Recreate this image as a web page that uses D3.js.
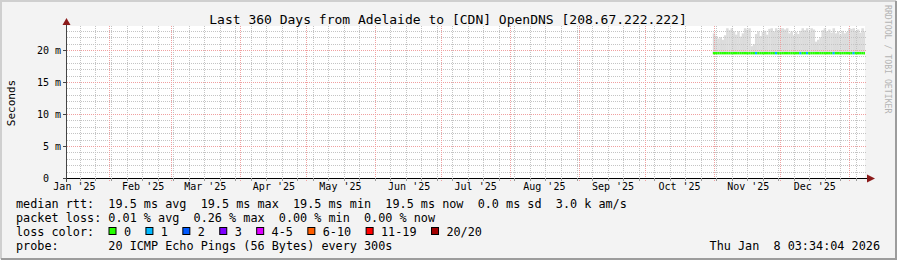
<!DOCTYPE html>
<meta charset="utf-8">
<style>
    body { margin: 0; background: #f3f3f3; }
    svg { display: block; }
    text { font-family: "DejaVu Sans Mono", monospace; fill: #000; white-space: pre; }
</style>
<svg width="897" height="260"></svg>
<script src="https://d3js.org/d3.v7.min.js"></script>
<script>
    // ---- data ----
    var graphEnd = new Date(Date.UTC(2026, 0, 8, 3, 34, 4));
    var graphStart = new Date(graphEnd.getTime() - 360 * 864e5);
    var dataStart = new Date(Date.UTC(2025, 9, 31, 12, 0, 0));

    // daily top of the smoke (ms)
    var smokeTop = [22.6, 22.2, 21.8, 22.0, 21.6, 22.3,
        23.4, 23.1, 23.4, 22.9,
        22.4, 22.9, 22.1, 22.6,
        23.4, 23.2, 23.4,
        20.6, 20.9,
        22.5, 22.9, 22.2, 22.8, 23.0, 22.4,
        23.3, 23.4, 22.9, 23.4, 23.1, 23.4,
        23.4, 23.2, 23.4,
        22.6, 22.9, 22.3, 22.8, 22.5, 23.0,
        23.4, 23.1, 23.4, 22.8, 23.4, 23.2,
        21.3, 21.6, 22.0,
        23.1, 23.4, 22.9, 23.2, 22.7, 23.4,
        22.6, 22.9, 22.4, 23.0, 22.6, 22.8,
        23.4, 23.3, 23.4,
        23.0, 23.2, 22.7, 23.4, 22.9];
    var smokeBottom = 19.4;

    // daily median rtt (ms)
    var median = [19.5, 19.5, 19.5, 19.5, 19.5, 19.5, 19.5, 19.5, 19.5, 19.5,
        19.5, 19.5, 19.5, 19.5, 19.5, 19.5, 19.5, 19.5, 19.5, 19.5,
        19.5, 19.5, 19.5, 19.5, 19.5, 19.5, 19.5, 19.5, 19.5, 19.5,
        19.5, 19.5, 19.5, 19.5, 19.5, 19.5, 19.5, 19.5, 19.5, 19.5,
        19.5, 19.5, 19.5, 19.5, 19.5, 19.5, 19.5, 19.5, 19.5, 19.5,
        19.5, 19.5, 19.5, 19.5, 19.5, 19.5, 19.5, 19.5, 19.5, 19.5,
        19.5, 19.5, 19.5, 19.5, 19.5, 19.5, 19.5, 19.5, 19.5];

    // daily lost pings (of 20)
    var loss = [0, 0, 0, 0, 0, 0, 0, 0, 0, 0,
        0, 0, 0, 0, 0, 0, 0, 0, 0, 1,
        0, 0, 0, 0, 0, 0, 0, 0, 1, 0,
        0, 0, 0, 0, 0, 0, 0, 0, 0, 1,
        0, 0, 1, 0, 0, 0, 0, 0, 0, 0,
        0, 0, 0, 0, 1, 0, 0, 0, 0, 0,
        0, 0, 0, 1, 0, 0, 0, 0, 0];

    var yTicks = [0, 5, 10, 15, 20];
    var yTickLabels = ["0  ", "5 m", "10 m", "15 m", "20 m"];

    var lossLabels = ["0", "1", "2", "3", "4-5", "6-10", "11-19", "20/20"];
    var lossColors = ["#26ff00", "#00b8ff", "#0059ff", "#7e00ff", "#dd00ff", "#ff5e00", "#ff0000", "#a10000"];

    var legendLines = [
        "median rtt:  19.5 ms avg  19.5 ms max  19.5 ms min  19.5 ms now  0.0 ms sd  3.0 k am/s",
        "packet loss: 0.01 % avg  0.26 % max  0.00 % min  0.00 % now",
        "loss color:",
        "probe:       20 ICMP Echo Pings (56 Bytes) every 300s"
    ];

    // ---- layout ----
    var svg = d3.select("svg"),
        width = +svg.attr("width"),
        height = +svg.attr("height");

    var pLeft = 67, pRight = 865, pTop = 26, pBottom = 178;

    var x = d3.scaleUtc().domain([graphStart, graphEnd]).range([pLeft, pRight]);
    var y = d3.scaleLinear().domain([0, 23.75]).range([pBottom, pTop]);

    function lossColor(n) {
        if (n == 0) return lossColors[0];
        if (n <= 3) return lossColors[n];
        if (n <= 5) return lossColors[4];
        if (n <= 10) return lossColors[5];
        if (n <= 19) return lossColors[6];
        return lossColors[7];
    }

    // frame
    svg.append("rect").attr("width", width).attr("height", height).attr("fill", "#f3f3f3");
    svg.append("path").attr("d", "M1," + (height - 1) + "V1H" + (width - 1))
        .attr("stroke", "#cfcfcf").attr("stroke-width", 2).attr("fill", "none");
    svg.append("path").attr("d", "M1," + (height - 1) + "H" + (width - 1) + "V1")
        .attr("stroke", "#9c9c9c").attr("stroke-width", 2).attr("fill", "none");

    // plot background
    svg.append("rect").attr("x", pLeft).attr("y", pTop)
        .attr("width", pRight - pLeft).attr("height", pBottom - pTop).attr("fill", "#fff");

    svg.append("clipPath").attr("id", "clip").append("rect")
        .attr("x", pLeft).attr("y", pTop).attr("width", pRight - pLeft).attr("height", pBottom - pTop);

    var days = median.map(function(d, i) {
        return {
            t0: d3.utcDay.offset(dataStart, i),
            t1: d3.utcDay.offset(dataStart, i + 1),
            top: smokeTop[i],
            med: d,
            loss: loss[i]
        };
    });

    // smoke
    svg.append("g").attr("clip-path", "url(#clip)")
        .selectAll("rect").data(days).enter().append("rect")
        .attr("x", function(d) { return x(d.t0); })
        .attr("width", function(d) { return x(d.t1) - x(d.t0) + 0.3; })
        .attr("y", function(d) { return y(d.top); })
        .attr("height", function(d) { return y(smokeBottom) - y(d.top); })
        .attr("fill", "#dcdcdc");

    // grid
    var grid = svg.append("g").attr("fill", "none").attr("stroke-dasharray", "1,1")
        .attr("shape-rendering", "crispEdges");
    var minorY = d3.range(1, 24).filter(function(v) { return v % 5 != 0; });
    grid.selectAll(".hmin").data(minorY).enter().append("line")
        .attr("x1", pLeft).attr("x2", pRight + 2)
        .attr("y1", function(d) { return Math.round(y(d)) + 0.5; })
        .attr("y2", function(d) { return Math.round(y(d)) + 0.5; })
        .attr("stroke", "#c4c4c4");
    var weeks = d3.utcSunday.range(graphStart, graphEnd);
    grid.selectAll(".vmin").data(weeks).enter().append("line")
        .attr("x1", function(d) { return Math.round(x(d)) + 0.5; })
        .attr("x2", function(d) { return Math.round(x(d)) + 0.5; })
        .attr("y1", pTop).attr("y2", pBottom)
        .attr("stroke", "#c4c4c4");
    grid.selectAll(".hmaj").data(yTicks.slice(1)).enter().append("line")
        .attr("x1", pLeft).attr("x2", pRight + 2)
        .attr("y1", function(d) { return Math.round(y(d)) + 0.5; })
        .attr("y2", function(d) { return Math.round(y(d)) + 0.5; })
        .attr("stroke", "#f0a0a0");
    var months = d3.utcMonth.range(d3.utcMonth.ceil(graphStart), graphEnd);
    grid.selectAll(".vmaj").data(months).enter().append("line")
        .attr("x1", function(d) { return Math.round(x(d)) + 0.5; })
        .attr("x2", function(d) { return Math.round(x(d)) + 0.5; })
        .attr("y1", pTop).attr("y2", pBottom + 3)
        .attr("stroke", "#f0a0a0");

    // median line coloured by loss
    svg.append("g").attr("clip-path", "url(#clip)")
        .selectAll("line").data(days).enter().append("line")
        .attr("x1", function(d) { return x(d.t0); })
        .attr("x2", function(d) { return x(d.t1); })
        .attr("y1", function(d) { return y(d.med); })
        .attr("y2", function(d) { return y(d.med); })
        .attr("stroke", function(d) { return lossColor(d.loss); })
        .attr("stroke-width", 2.4);

    // axes
    svg.append("line").attr("x1", pLeft - 4).attr("x2", pRight + 3)
        .attr("y1", pBottom + 0.5).attr("y2", pBottom + 0.5).attr("stroke", "#000");
    svg.append("line").attr("x1", pLeft - 0.5).attr("x2", pLeft - 0.5)
        .attr("y1", pBottom + 4).attr("y2", pTop - 2).attr("stroke", "#444");
    svg.append("path").attr("d", "M" + (pRight + 2) + "," + (pBottom - 3.5) + "l8,4l-8,4z").attr("fill", "#8b1a1a");
    svg.append("path").attr("d", "M" + (pLeft - 4.5) + "," + (pTop - 1) + "l4,-7l4,7z").attr("fill", "#8b1a1a");

    // ticks
    svg.append("g").selectAll("line").data(yTicks).enter().append("line")
        .attr("x1", pLeft - 4).attr("x2", pLeft)
        .attr("y1", function(d) { return Math.round(y(d)) + 0.5; })
        .attr("y2", function(d) { return Math.round(y(d)) + 0.5; })
        .attr("stroke", "#444");
    svg.append("g").selectAll("line").data(weeks).enter().append("line")
        .attr("x1", function(d) { return Math.round(x(d)) + 0.5; })
        .attr("x2", function(d) { return Math.round(x(d)) + 0.5; })
        .attr("y1", pBottom).attr("y2", pBottom + 3)
        .attr("stroke", "#999");

    // y labels
    svg.append("g").selectAll("text").data(yTicks).enter().append("text")
        .attr("x", 61).attr("y", function(d) { return y(d) + 3.5; })
        .attr("text-anchor", "end").attr("font-size", "10px")
        .text(function(d, i) { return yTickLabels[i]; });

    // x labels at mid-month
    var labelMonths = d3.utcMonth.range(d3.utcMonth.floor(graphStart), graphEnd).filter(function(m) {
        return x(new Date(m.getTime() + 15.5 * 864e5)) < pRight - 10;
    });
    var fmt = d3.utcFormat("%b '%y");
    svg.append("g").selectAll("text").data(labelMonths).enter().append("text")
        .attr("x", function(d) { return x(new Date(d.getTime() + 15.5 * 864e5)); })
        .attr("y", 190).attr("text-anchor", "middle").attr("font-size", "10px")
        .text(fmt);

    // titles
    svg.append("text").attr("x", 448).attr("y", 23.5).attr("text-anchor", "middle")
        .attr("font-size", "13px")
        .text("Last 360 Days from Adelaide to [CDN] OpenDNS [208.67.222.222]");
    svg.append("text").attr("transform", "translate(15,103) rotate(-90)")
        .attr("text-anchor", "middle").attr("font-size", "11px").text("Seconds");
    svg.append("text").attr("transform", "translate(885,5) rotate(90)")
        .attr("font-size", "8.2px").style("fill", "#b4b4b4").text("RRDTOOL / TOBI OETIKER");

    // legend
    svg.append("g").selectAll("text").data(legendLines).enter().append("text")
        .attr("x", 16).attr("y", function(d, i) { return 208 + i * 14; })
        .attr("font-size", "11.8px").text(function(d) { return d; });

    var cw = 7.12, bx = 108.5;
    var items = lossLabels.map(function(l, i) {
        var it = { label: l, color: lossColors[i], x: bx };
        bx = bx + 15.4 + l.length * cw + 14.4;
        return it;
    });
    var lg = svg.append("g").selectAll("g").data(items).enter().append("g");
    lg.append("rect").attr("x", function(d) { return d.x + 0.5; }).attr("y", 227.5)
        .attr("width", 7).attr("height", 7)
        .attr("fill", function(d) { return d.color; }).attr("stroke", "#000");
    lg.append("text").attr("x", function(d) { return d.x + 15.4; }).attr("y", 236)
        .attr("font-size", "11.8px").text(function(d) { return d.label; });

    svg.append("text").attr("x", 880).attr("y", 250).attr("text-anchor", "end")
        .attr("font-size", "11.8px").text("Thu Jan  8 03:34:04 2026");
</script>
